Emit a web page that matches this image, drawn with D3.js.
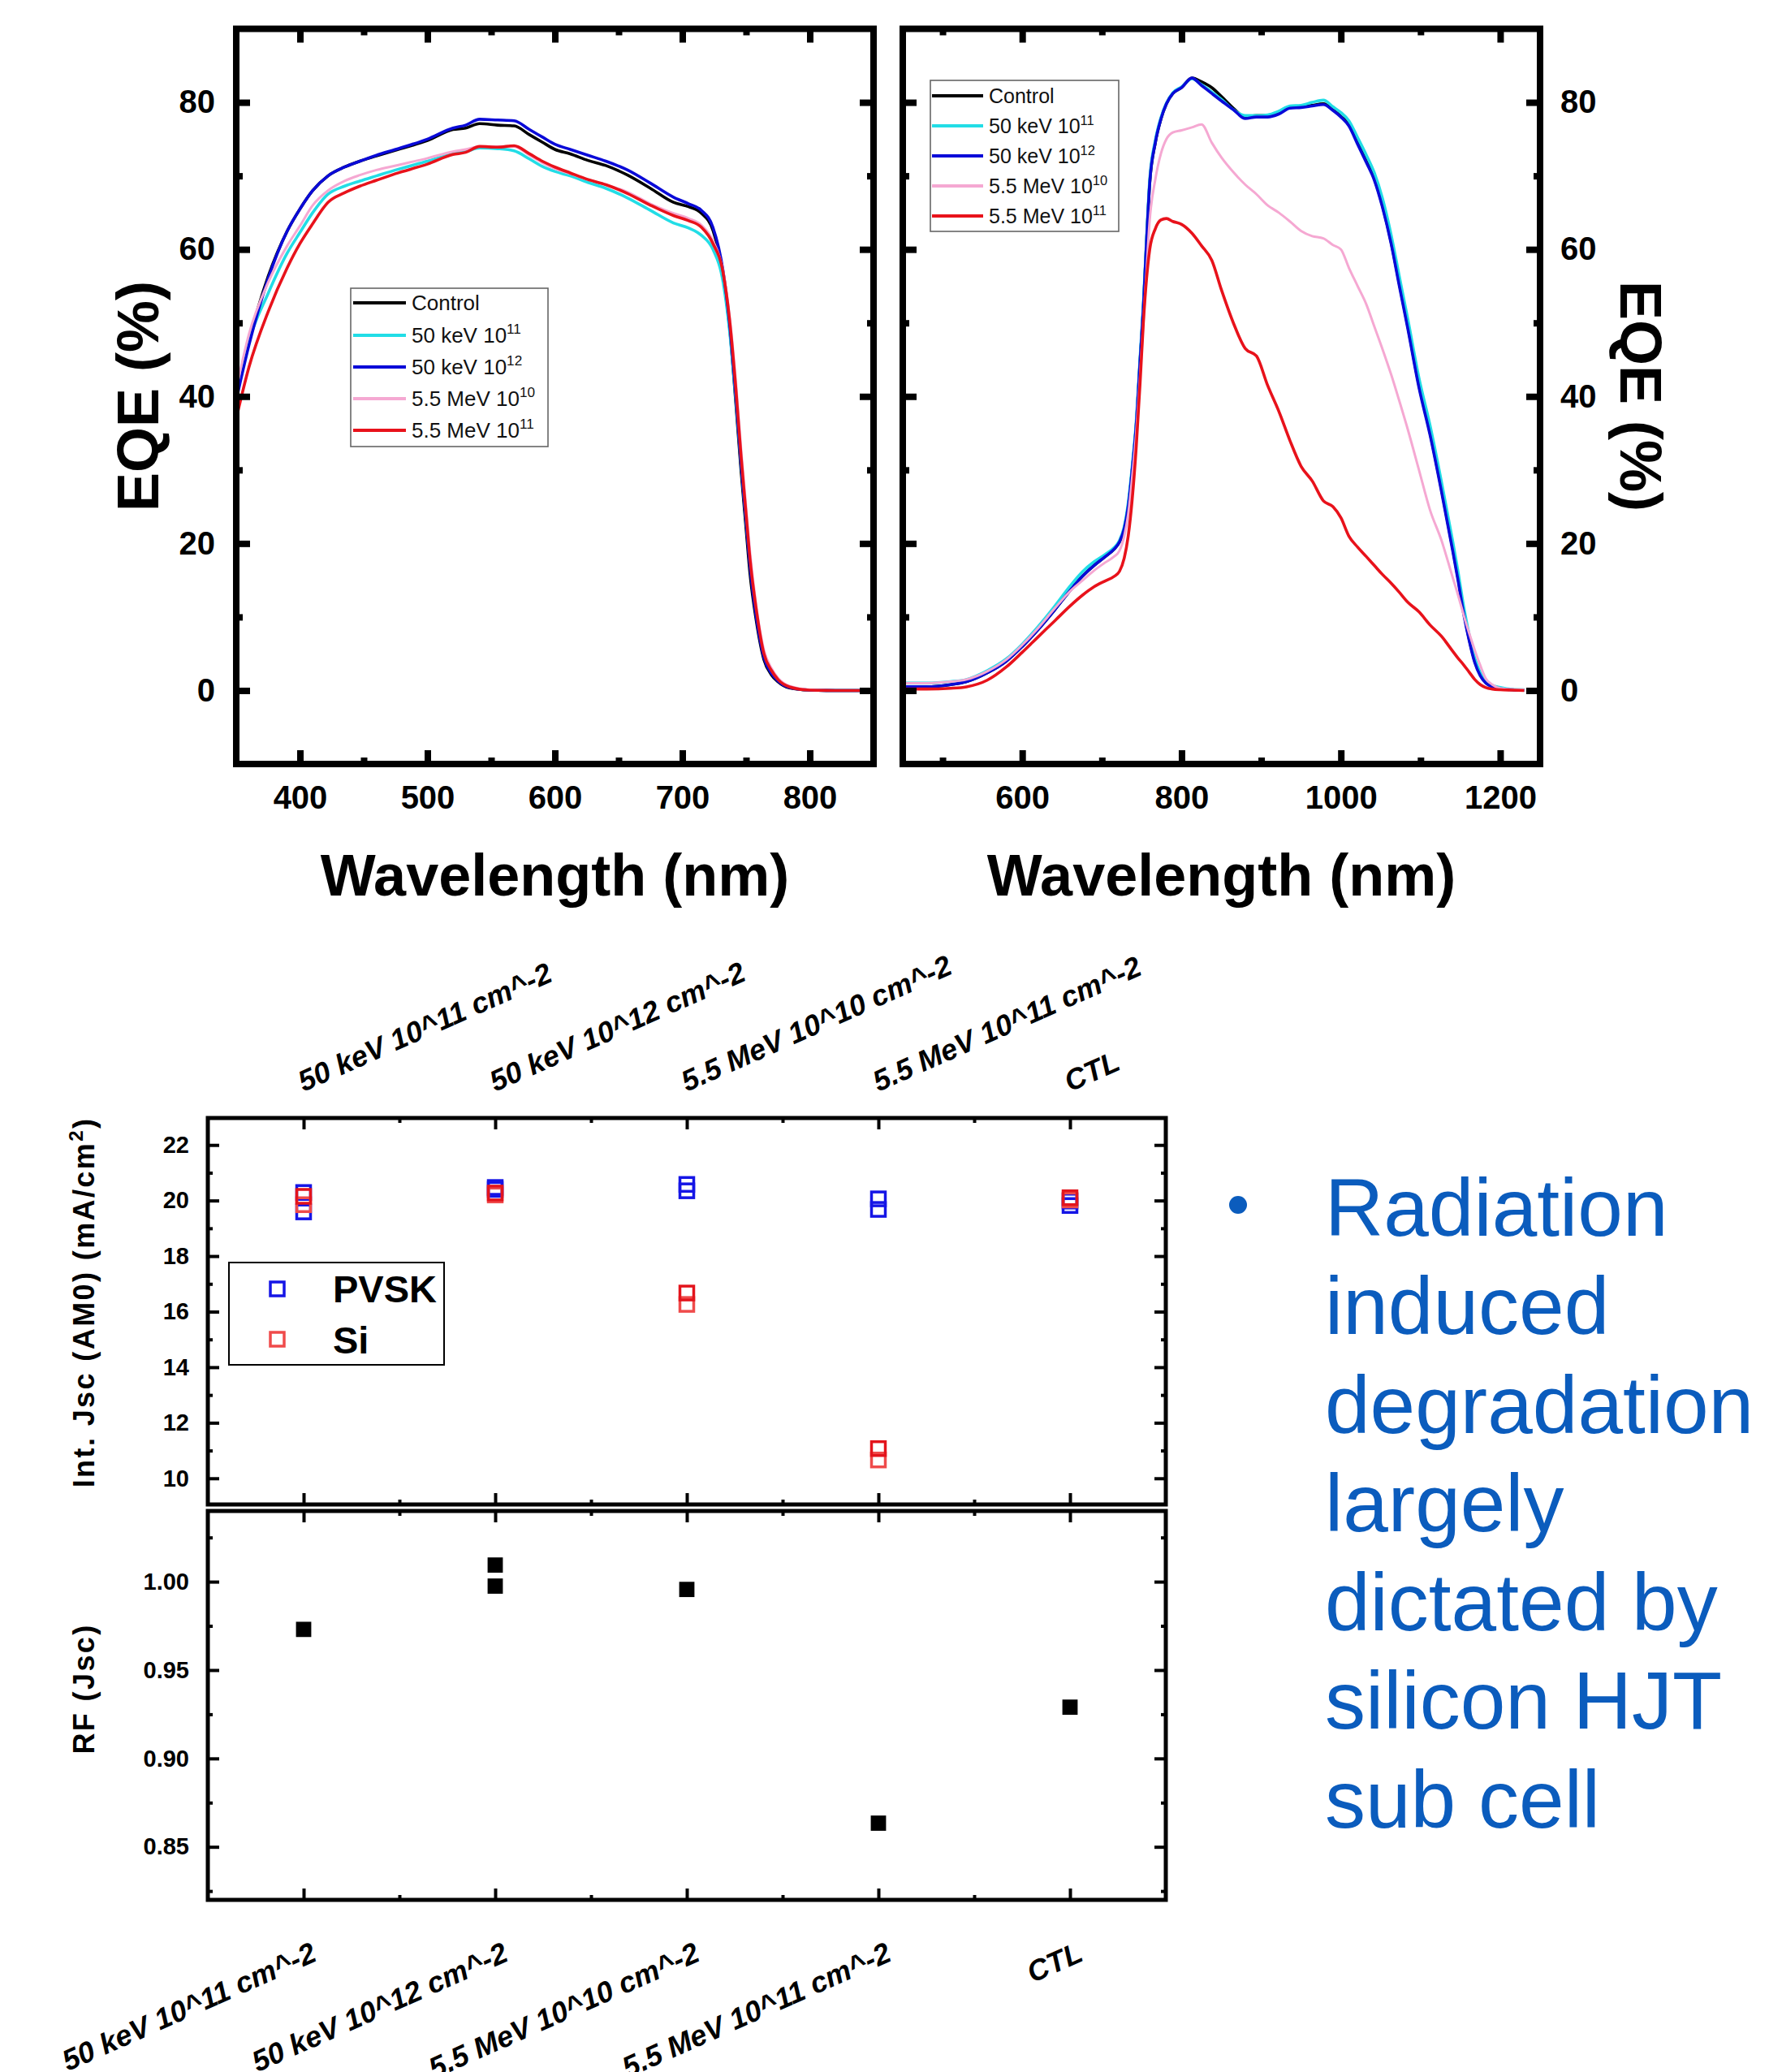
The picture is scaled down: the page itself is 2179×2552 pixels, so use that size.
<!DOCTYPE html>
<html><head><meta charset="utf-8">
<script src="https://cdn.jsdelivr.net/npm/d3@7"></script>
<style>
html,body{margin:0;padding:0;background:#fff;}
svg{display:block;font-family:"Liberation Sans",Arial,sans-serif;}
</style></head>
<body>
<svg id="c" width="2179" height="2552"></svg>
<script>
// ---------- DATA ----------
const seriesNames = ["Control","50 keV 10","50 keV 10","5.5 MeV 10","5.5 MeV 10"];
const seriesExp   = ["","11","12","10","11"];
const seriesColors = ["#000000","#22dde6","#0a0ad8","#f5a8d2","#e8121b"];

const leftWl = [350,360,375,390,400,410,422,435,447,460,475,500,520,530,541,555,568,580,590,600,612,626,640,657,675,693,705,715,724,732,737,742,746,750,753,758,764,770,775,784,800,820,840];
const leftControl = [40,47.5,56.3,62.5,65.5,68,70,71.2,72,72.7,73.5,74.8,76.3,76.5,77.1,76.9,76.8,75.6,74.6,73.6,73,72.1,71.4,70.1,68.3,66.4,65.8,64.9,62.6,56.5,49.5,39,30,22,16,9.5,4.2,2.1,1.2,0.35,0.05,0,0];
const left50k11 = [40,47.5,54,59.5,62.3,65,67.5,68.6,69.3,70,70.8,72,73,73.3,73.8,73.7,73.4,72.3,71.3,70.6,70,69.1,68.3,67,65.3,63.6,62.9,61.9,60,55.5,49,39.5,31,23,17.5,10.5,5,2.6,1.5,0.5,0.05,0,0];
const left50k12 = [39.5,47,56,62.5,65.5,68,70,71.2,72,72.8,73.6,75,76.5,76.9,77.7,77.6,77.5,76.3,75.3,74.3,73.6,72.8,72,70.8,69,67.1,66.2,65.3,63,57,50,40,31,23,17,10,4.5,2.3,1.3,0.4,0.05,0,0];
const left55M10 = [41,48.5,55.5,60.5,63.2,66,68,69.3,70.1,70.8,71.4,72.4,73.3,73.6,74,74,74,72.8,71.8,71,70.3,69.5,68.8,67.8,66.2,64.9,64.2,63.3,61.2,57,51,42,33,25,19,11.5,5.5,3,1.7,0.6,0.1,0,0];
const left55M11 = [37,44,51.5,57.5,60.8,63.5,66.4,67.7,68.6,69.4,70.3,71.6,72.9,73.2,74,73.9,74.1,73,72,71.2,70.4,69.5,68.8,67.6,66,64.6,63.9,63,60.8,56.8,50.5,41,32,24,18,11,5,2.7,1.5,0.5,0.05,0,0];

const rightWl = [450,480,510,530,556,580,600,620,641,660,676,690,704,715,722,728,733,738,743,748,752,756,760,767,774,781,789,800,813,825,838,850,865,880,894,908,922,936,950,964,978,990,1000,1010,1021,1032,1042,1052,1063,1073,1084,1098,1112,1126,1140,1147,1154,1161,1168,1175,1182,1190,1200,1215,1230];
const rightControl = [0.5,0.5,0.8,1.2,2.4,4,6,8.3,11,13.6,15.6,17,18.2,19.2,20.2,22,25,30,36,45,52,61,69,74.5,77.7,79.8,81.2,82,83.3,82.8,82,80.8,79.2,78,78.2,78.2,78.5,79.3,79.4,79.6,79.8,79,78.1,77,74.5,72,69.6,66,61,55.5,49.5,41.5,35,27.5,19.5,15.3,10.8,7,4,2.1,1.1,0.6,0.3,0.1,0.05];
const right50k11 = [1,1,1.2,1.5,2.7,4.3,6.3,8.7,11.5,14.2,16.2,17.5,18.5,19.4,20.4,22.3,25.5,30.5,36.5,45.5,52.5,61.5,69.5,74.8,77.9,79.9,81.3,82.1,83.2,82.4,81.4,80.4,79,78.2,78.2,78.3,78.8,79.5,79.6,80,80.3,79.4,78.6,77.5,75.2,72.8,70.4,67,62,56.5,50.5,42.5,36,28.5,20.5,16.2,11.5,7.6,4.4,2.4,1.3,0.7,0.4,0.15,0.1];
const right50k12 = [0.5,0.5,0.8,1.2,2.4,4,6,8.3,11,13.6,15.6,17,18.2,19.2,20.2,22,25,30,36,45,52,61,69,74.5,77.7,79.8,81.2,82,83.3,82.3,81.2,80.2,79,77.8,78,78,78.4,79.2,79.3,79.5,79.7,78.9,78,76.8,74.3,71.8,69.4,65.8,60.8,55.2,49.2,41.2,34.7,27.2,19.2,15,10.5,6.8,3.8,2,1,0.5,0.25,0.1,0.05];
const right55M10 = [1,1,1.2,1.5,2.6,4.2,6.2,8.5,11.2,13.5,15,16.3,17.4,18.2,19,21,24,29,35,43,50,57,64,69.5,73,75,75.9,76.2,76.6,77,74.5,72.5,70.5,68.8,67.5,66,65,63.8,62.5,61.8,61.5,60.6,60,57.5,55,52.5,49.5,46.5,43,39.5,35.5,30,24.5,20.5,15.5,13,10.3,7.8,5.5,3.4,1.6,0.8,0.3,0.15,0.1];
const right55M11 = [0.2,0.2,0.3,0.5,1.4,3.2,5.2,7.3,9.5,11.5,13,14.1,14.9,15.5,16.2,18,21,26,33,42,50,56,60,62.8,64,64.2,63.8,63.4,62.2,60.5,58.5,54.5,50,46.5,45.5,41.5,38,34,30.5,28.5,25.8,25,23.5,21,19.5,18.2,17,15.8,14.6,13.4,12,10.7,8.9,7.4,5.4,4.4,3.5,2.5,1.5,0.8,0.4,0.2,0.1,0.05,0];

const categories = ["50 keV 10^11 cm^-2","50 keV 10^12 cm^-2","5.5 MeV 10^10 cm^-2","5.5 MeV 10^11 cm^-2","CTL"];
const pvskA = [20.29,20.47,20.58,20.06,19.82];
const pvskB = [19.59,20.40,20.35,19.68,19.98];
const siA   = [20.15,20.27,16.67,11.07,20.10];
const siB   = [19.85,20.20,16.26,10.66,20.02];
const rfA   = [0.973,1.0094,0.9956,0.8634,0.929];
const rfB   = [null,0.9975,null,null,null];

const jscTicks = [10,12,14,16,18,20,22];
const rfTicks = [0.85,0.90,0.95,1.00];
const bulletLines = ["Radiation","induced","degradation","largely","dictated by","silicon HJT","sub cell"];

// ---------- DRAW ----------
const svg = d3.select("#c");
const FONT = "'Liberation Sans',Arial,sans-serif";

function styleAxis(g, fs, sw){
  g.select(".domain").remove();
  g.selectAll(".tick line").attr("stroke","#000").attr("stroke-width",sw);
  g.selectAll(".tick text").attr("font-size",fs).attr("font-weight","bold").attr("fill","#000").attr("font-family",FONT);
}

// ---- top EQE panels ----
const yEQE_top = 35.5, yEQE_bot = 941;
function eqePanel(opt){
  const x = d3.scaleLinear().domain(opt.xdom).range(opt.xr);
  const y = d3.scaleLinear().domain([-10,90]).range([yEQE_bot,yEQE_top]);
  const g = svg.append("g");
  const line = d3.line().x((d,i)=>x(opt.wl[i])).y(d=>y(d)).curve(d3.curveMonotoneX);
  opt.series.forEach((s,k)=>{
    g.append("path").datum(s).attr("d",line).attr("fill","none")
     .attr("stroke",seriesColors[k]).attr("stroke-width",k===3?3:3.6).attr("stroke-linejoin","round");
  });
  // minor/major ticks
  const [L,R] = opt.xr;
  const addAx = (ax, tr, fs) => { const a = g.append("g").attr("transform",tr).call(ax); styleAxis(a, fs, 8); return a; };
  // x bottom major
  addAx(d3.axisBottom(x).tickValues(opt.xMajor).tickSize(-17).tickPadding(27).tickFormat(d3.format("d")), `translate(0,${yEQE_bot})`, 40);
  addAx(d3.axisBottom(x).tickValues(opt.xMinor).tickSize(-8).tickFormat(""), `translate(0,${yEQE_bot})`, 40);
  addAx(d3.axisTop(x).tickValues(opt.xMajor).tickSize(-17).tickFormat(""), `translate(0,${yEQE_top})`, 40);
  addAx(d3.axisTop(x).tickValues(opt.xMinor).tickSize(-8).tickFormat(""), `translate(0,${yEQE_top})`, 40);
  const yMaj=[0,20,40,60,80], yMin=[10,30,50,70];
  addAx(d3.axisLeft(y).tickValues(yMaj).tickSize(-17).tickPadding(26).tickFormat(opt.labelsLeft?d3.format("d"):""), `translate(${L},0)`, 40);
  addAx(d3.axisLeft(y).tickValues(yMin).tickSize(-8).tickFormat(""), `translate(${L},0)`, 40);
  addAx(d3.axisRight(y).tickValues(yMaj).tickSize(-17).tickPadding(25).tickFormat(opt.labelsLeft?"":d3.format("d")), `translate(${R},0)`, 40);
  addAx(d3.axisRight(y).tickValues(yMin).tickSize(-8).tickFormat(""), `translate(${R},0)`, 40);
  g.append("rect").attr("x",L).attr("y",yEQE_top).attr("width",R-L).attr("height",yEQE_bot-yEQE_top)
   .attr("fill","none").attr("stroke","#000").attr("stroke-width",8);
  g.append("text").attr("x",(L+R)/2).attr("y",1103).attr("text-anchor","middle")
   .attr("font-size",72).attr("font-weight","bold").attr("font-family",FONT).text("Wavelength (nm)");
  // legend
  const lg = opt.legend;
  g.append("rect").attr("x",lg.x0).attr("y",lg.y0).attr("width",lg.x1-lg.x0).attr("height",lg.y1-lg.y0)
   .attr("fill","#fff").attr("stroke","#666").attr("stroke-width",1.6);
  seriesNames.forEach((nm,k)=>{
    const yy = lg.rows[k];
    g.append("line").attr("x1",lg.lx0).attr("x2",lg.lx1).attr("y1",yy).attr("y2",yy)
     .attr("stroke",seriesColors[k]).attr("stroke-width",4);
    const t = g.append("text").attr("x",lg.tx).attr("y",yy+lg.fs*0.36).attr("font-size",lg.fs).attr("font-family",FONT).attr("fill","#111");
    t.append("tspan").text(nm);
    if(seriesExp[k]) t.append("tspan").attr("dy",-lg.fs*0.42).attr("font-size",lg.fs*0.66).text(seriesExp[k]);
  });
  return g;
}

eqePanel({xdom:[350,850], xr:[291,1076], wl:leftWl,
  series:[leftControl,left50k11,left50k12,left55M10,left55M11],
  xMajor:[400,500,600,700,800], xMinor:[450,550,650,750], labelsLeft:true,
  legend:{x0:432,y0:355,x1:675,y1:550,rows:[373,413,452,491,530],lx0:435,lx1:500,tx:507,fs:26}});
eqePanel({xdom:[450,1250], xr:[1112,1897], wl:rightWl,
  series:[rightControl,right50k11,right50k12,right55M10,right55M11],
  xMajor:[600,800,1000,1200], xMinor:[500,700,900,1100], labelsLeft:false,
  legend:{x0:1146,y0:99,x1:1378,y1:285,rows:[118,155,192,229,266],lx0:1148,lx1:1211,tx:1218,fs:25}});

svg.append("text").attr("transform","translate(195,488) rotate(-90)").attr("text-anchor","middle")
  .attr("font-size",72).attr("font-weight","bold").attr("font-family",FONT).text("EQE (%)");
svg.append("text").attr("transform","translate(1996,488) rotate(90)").attr("text-anchor","middle")
  .attr("font-size",72).attr("font-weight","bold").attr("font-family",FONT).text("EQE (%)");

// ---- bottom chart ----
const bx = d3.scaleLinear().domain([0.5,5.5]).range([256,1436]);
const yJ = d3.scaleLinear().domain([9,23]).range([1855,1376]);
const yR = d3.scaleLinear().domain([0.82,1.04]).range([2340,1861]);
const catIdx = categories.map((c,i)=>i+1);
const minorCat = [1.5,2.5,3.5,4.5];
const bg = svg.append("g");
function bAx(ax, tr){ const a = bg.append("g").attr("transform",tr).call(ax); styleAxis(a, 29, 4); return a; }

// top panel axes
bAx(d3.axisLeft(yJ).tickValues(jscTicks).tickSize(-14).tickPadding(23).tickFormat(d3.format("d")), "translate(256,0)");
bAx(d3.axisLeft(yJ).tickValues([11,13,15,17,19,21]).tickSize(-6).tickFormat(""), "translate(256,0)");
bAx(d3.axisRight(yJ).tickValues(jscTicks).tickSize(-14).tickFormat(""), "translate(1436,0)");
bAx(d3.axisRight(yJ).tickValues([11,13,15,17,19,21]).tickSize(-6).tickFormat(""), "translate(1436,0)");
bAx(d3.axisTop(bx).tickValues(catIdx).tickSize(-14).tickFormat(""), "translate(0,1377)");
bAx(d3.axisTop(bx).tickValues(minorCat).tickSize(-6).tickFormat(""), "translate(0,1377)");
bAx(d3.axisBottom(bx).tickValues(catIdx).tickSize(-14).tickFormat(""), "translate(0,1853)");
bAx(d3.axisBottom(bx).tickValues(minorCat).tickSize(-6).tickFormat(""), "translate(0,1853)");
// bottom panel axes
bAx(d3.axisLeft(yR).tickValues(rfTicks).tickSize(-14).tickPadding(23).tickFormat(d3.format(".2f")), "translate(256,0)");
bAx(d3.axisLeft(yR).tickValues([0.825,0.875,0.925,0.975,1.025]).tickSize(-6).tickFormat(""), "translate(256,0)");
bAx(d3.axisRight(yR).tickValues(rfTicks).tickSize(-14).tickFormat(""), "translate(1436,0)");
bAx(d3.axisRight(yR).tickValues([0.825,0.875,0.925,0.975,1.025]).tickSize(-6).tickFormat(""), "translate(1436,0)");
bAx(d3.axisTop(bx).tickValues(catIdx).tickSize(-14).tickFormat(""), "translate(0,1861)");
bAx(d3.axisTop(bx).tickValues(minorCat).tickSize(-6).tickFormat(""), "translate(0,1861)");
bAx(d3.axisBottom(bx).tickValues(catIdx).tickSize(-14).tickFormat(""), "translate(0,2340)");
bAx(d3.axisBottom(bx).tickValues(minorCat).tickSize(-6).tickFormat(""), "translate(0,2340)");

bg.append("rect").attr("x",256).attr("y",1377).attr("width",1180).attr("height",476)
  .attr("fill","none").attr("stroke","#000").attr("stroke-width",5);
bg.append("rect").attr("x",256).attr("y",1861).attr("width",1180).attr("height",479)
  .attr("fill","none").attr("stroke","#000").attr("stroke-width",5);

// markers
const MS = 20;
function hollow(vals, color){
  bg.append("g").selectAll("rect").data(vals.map((v,i)=>({v,i})).filter(d=>d.v!=null)).join("rect")
    .attr("x",d=>bx(d.i+1)-MS/2+1.5).attr("y",d=>yJ(d.v)-MS/2+1.5).attr("width",MS-3).attr("height",MS-3)
    .attr("fill","none").attr("stroke",color).attr("stroke-width",3.5);
}
hollow(pvskB,"#1515e6"); hollow(pvskA,"#1515e6");
hollow(siB,"#ef4b4b"); hollow(siA,"#e3141c");
function filled(vals){
  bg.append("g").selectAll("rect").data(vals.map((v,i)=>({v,i})).filter(d=>d.v!=null)).join("rect")
    .attr("x",d=>bx(d.i+1)-MS/2).attr("y",d=>yR(d.v)-MS/2).attr("width",MS).attr("height",MS)
    .attr("fill","#000").attr("stroke","#fff").attr("stroke-width",1.2);
}
filled(rfA); filled(rfB);

// legend
bg.append("rect").attr("x",282).attr("y",1555).attr("width",265).attr("height",126)
  .attr("fill","#fff").attr("stroke","#000").attr("stroke-width",2);
bg.append("rect").attr("x",333).attr("y",1579).attr("width",17).attr("height",17).attr("fill","none").attr("stroke","#1515e6").attr("stroke-width",3.5);
bg.append("rect").attr("x",333).attr("y",1641).attr("width",17).attr("height",17).attr("fill","none").attr("stroke","#ef4b4b").attr("stroke-width",3.5);
bg.append("text").attr("x",410).attr("y",1604).attr("font-size",47).attr("font-weight","bold").attr("font-family",FONT).text("PVSK");
bg.append("text").attr("x",410).attr("y",1667).attr("font-size",47).attr("font-weight","bold").attr("font-family",FONT).text("Si");

// category labels
categories.forEach((c,i)=>{
  const xc = bx(i+1);
  bg.append("text").attr("transform",`translate(${xc},1345) rotate(-24)`).attr("text-anchor","start")
    .attr("font-size",36).attr("font-weight","bold").attr("font-style","italic").attr("font-family",FONT).text(c);
  bg.append("text").attr("transform",`translate(${xc+18},2414) rotate(-24)`).attr("text-anchor","end")
    .attr("font-size",36).attr("font-weight","bold").attr("font-style","italic").attr("font-family",FONT).text(c);
});

// y titles
const t1 = bg.append("text").attr("transform","translate(116,1604) rotate(-90)").attr("text-anchor","middle")
  .attr("font-size",36).attr("font-weight","bold").attr("letter-spacing",2.4).attr("font-family",FONT);
t1.append("tspan").text("Int. Jsc (AM0) (mA/cm");
t1.append("tspan").attr("dy",-14).attr("font-size",24).text("2");
t1.append("tspan").attr("dy",14).text(")");
bg.append("text").attr("transform","translate(116,2080) rotate(-90)").attr("text-anchor","middle")
  .attr("font-size",36).attr("font-weight","bold").attr("letter-spacing",2.4).attr("font-family",FONT).text("RF (Jsc)");

// ---- bullet text ----
const BLUE = "#0b5cbd";
svg.append("circle").attr("cx",1525).attr("cy",1484).attr("r",11).attr("fill",BLUE);
bulletLines.forEach((ln,i)=>{
  svg.append("text").attr("x",1632).attr("y",1521.5+i*121.5).attr("font-size",100)
    .attr("font-family",FONT).attr("fill",BLUE).text(ln);
});
</script>
</body></html>
